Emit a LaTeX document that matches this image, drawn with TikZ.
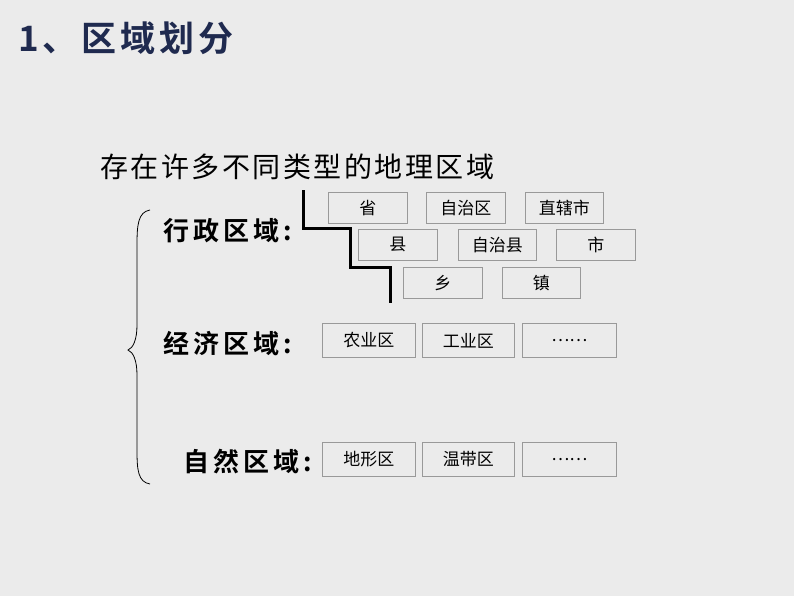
\documentclass[tikz,border=0pt]{standalone}
\usepackage{fontspec}
\newfontfamily\cjk{Noto Sans CJK SC}
\newfontfamily\cjkT[LetterSpace=11]{Noto Sans CJK SC Bold}
\newfontfamily\cjkI[LetterSpace=9]{Noto Sans CJK SC}
\newfontfamily\cjkL[LetterSpace=16]{Noto Sans CJK SC Bold}
\definecolor{bg}{HTML}{EBEBEB}
\definecolor{navy}{HTML}{1F2A4F}
\definecolor{bd}{HTML}{999999}
\begin{document}
\begin{tikzpicture}[x=1pt,y=-1pt,
 bx/.style={draw=bd,line width=0.8pt,minimum width=#1,minimum height=31pt,inner sep=0pt,anchor=north west,font=\cjk\fontsize{17}{17}\selectfont},
 bx/.default=79pt,
 lab/.style={anchor=west,inner sep=0pt,font=\cjkL\fontsize{26}{26}\selectfont}]
\fill[bg] (0,0) rectangle (794,596);
\useasboundingbox (0,0) rectangle (794,596);
\node[anchor=west,inner sep=0pt,text=navy,font=\cjkT\fontsize{35}{35}\selectfont] (title) at (18,38) {1、区域划分};
\node[anchor=west,inner sep=0pt,font=\cjkI\fontsize{28}{28}\selectfont] (intro) at (100,167) {存在许多不同类型的地理区域};
\node[lab] (xz) at (163,231) {行政区域:};
\node[lab] (jj) at (163,344) {经济区域:};
\node[lab] (zr) at (183,462) {自然区域:};
\node[bx] (s) at (328,192) {省};
\node[bx] (zzq) at (426,192) {自治区};
\node[bx=78pt] (zxs) at (525,192) {直辖市};
\node[bx] (x) at (358,229) {县};
\node[bx=78pt] (zzx) at (458,229) {自治县};
\node[bx] (sh) at (556,229) {市};
\node[bx] (xi) at (403,267) {乡};
\node[bx=78pt] (zh) at (502,267) {镇};
\node[bx=93pt,minimum height=34pt] (ny) at (322,323) {农业区};
\node[bx=92pt,minimum height=34pt] (gy) at (422,323) {工业区};
\node[bx=94pt,minimum height=34pt] (d1) at (522,323) {……};
\node[bx=93pt,minimum height=34pt] (dx) at (322,442) {地形区};
\node[bx=92pt,minimum height=34pt] (wd) at (422,442) {温带区};
\node[bx=94pt,minimum height=34pt] (d2) at (522,442) {……};
\draw[line width=3pt] (303,190) -- (303,228) -- (350,228) -- (350,267) -- (390,267) -- (390,303);
\draw[line width=0.8pt] (150,210) .. controls (138,212) and (137,225) .. (137,245)
 -- (137,325) .. controls (137,340) and (133,348) .. (128,350)
 .. controls (133,352) and (137,360) .. (137,375) -- (137,450)
 .. controls (137,470) and (138,482) .. (150,484);
\end{tikzpicture}
\end{document}
